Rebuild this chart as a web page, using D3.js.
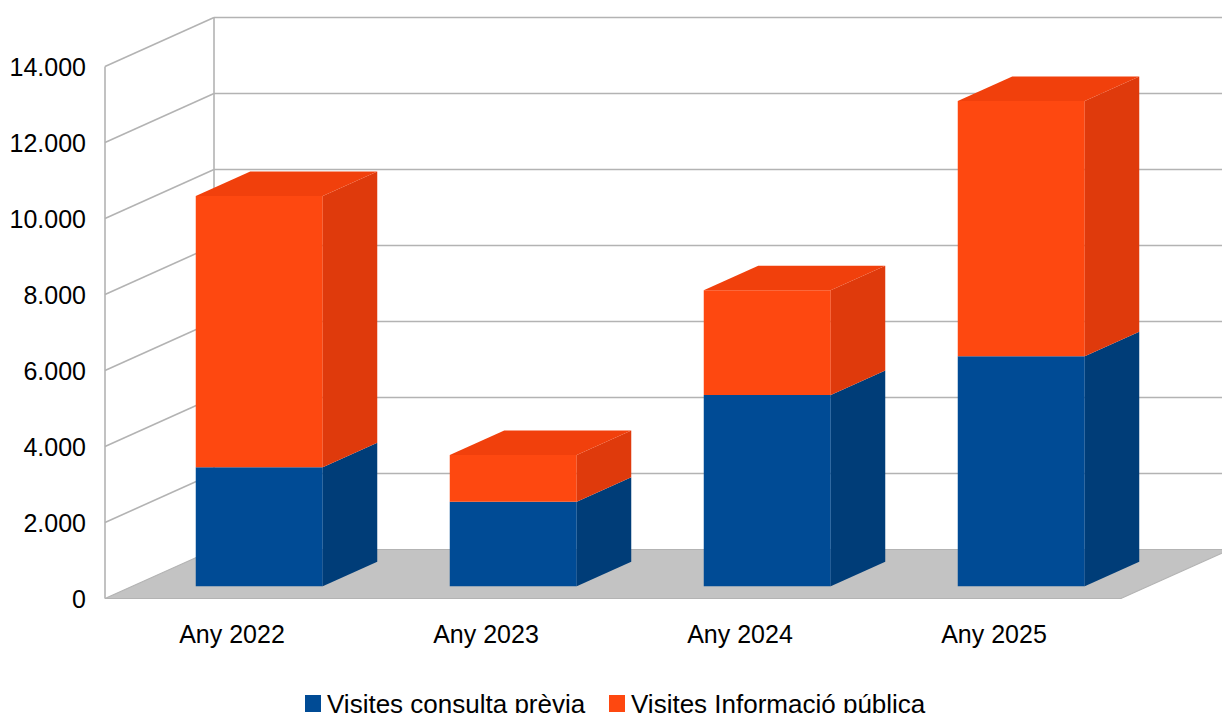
<!DOCTYPE html>
<html>
<head>
<meta charset="utf-8">
<script src="https://cdn.jsdelivr.net/npm/d3@7"></script>
<style>
  html, body { margin: 0; padding: 0; background: #fff; }
  svg { display: block; font-family: "Liberation Sans", Arial, sans-serif; }
</style>
</head>
<body>
<svg id="chart" width="1222" height="713"></svg>
<script>
// ---- data ----
const categories = ["Any 2022", "Any 2023", "Any 2024", "Any 2025"];
const seriesNames = ["Visites consulta prèvia", "Visites Informació pública"];
const consultaPrevia = [3130, 2225, 5030, 6050];
const informacioPublica = [7140, 1230, 2760, 6720];
const yTicks = [0, 2000, 4000, 6000, 8000, 10000, 12000, 14000];

// ---- layout ----
const svg = d3.select("#chart");
const x0 = 105, x1 = 1121, yBase = 598.5, plotH = 532;
const DX = 109, DY = 49;            // full depth offset
const barZ0 = 0.25, barZ1 = 0.75;   // bar depth range

const y = d3.scaleLinear().domain([0, 14000]).range([yBase, yBase - plotH]);
const xb = d3.scaleBand().domain(categories).range([x0, x1]).paddingInner(0.5).paddingOuter(0.25);

const P = (x, v, z) => [x + z * DX, y(v) - z * DY];
const poly = pts => pts.map(p => p.join(",")).join(" ");

const grid = "#b3b3b3";

// floor
svg.append("polygon")
  .attr("points", poly([P(x0, 0, 0), P(x1, 0, 0), P(x1, 0, 1), P(x0, 0, 1)]))
  .attr("fill", "#c3c3c3").attr("stroke", grid).attr("stroke-width", 1.2);

// walls: gridlines on left wall and back wall
const g = svg.append("g").attr("stroke", grid).attr("stroke-width", 1.6).attr("fill", "none");
yTicks.forEach(v => {
  if (v > 0) {
    g.append("line").attr("x1", P(x0, v, 0)[0]).attr("y1", P(x0, v, 0)[1])
      .attr("x2", P(x0, v, 1)[0]).attr("y2", P(x0, v, 1)[1]);
    g.append("line").attr("x1", P(x0, v, 1)[0]).attr("y1", P(x0, v, 1)[1])
      .attr("x2", P(x1, v, 1)[0]).attr("y2", P(x1, v, 1)[1]);
  }
});
g.append("line").attr("x1", x0).attr("y1", y(0)).attr("x2", x0).attr("y2", y(14000));
g.append("line").attr("x1", P(x0, 0, 1)[0]).attr("y1", P(x0, 0, 1)[1])
  .attr("x2", P(x0, 14000, 1)[0]).attr("y2", P(x0, 14000, 1)[1]);

// bars
const colors = [
  { front: "#004b95", side: "#003d78", top: "#00427f" },
  { front: "#fe4810", side: "#df3a0c", top: "#f1400c" }
];
const bars = svg.append("g");
categories.forEach((c, i) => {
  const xa = xb(c), xe = xb(c) + xb.bandwidth();
  const segs = [[0, consultaPrevia[i]], [consultaPrevia[i], consultaPrevia[i] + informacioPublica[i]]];
  segs.forEach((s, k) => {
    const [v0, v1] = s;
    const col = colors[k];
    bars.append("polygon").attr("fill", col.front)
      .attr("points", poly([P(xa, v0, barZ0), P(xe, v0, barZ0), P(xe, v1, barZ0), P(xa, v1, barZ0)]));
    bars.append("polygon").attr("fill", col.side)
      .attr("points", poly([P(xe, v0, barZ0), P(xe, v0, barZ1), P(xe, v1, barZ1), P(xe, v1, barZ0)]));
    if (k === segs.length - 1) {
      bars.append("polygon").attr("fill", col.top)
        .attr("points", poly([P(xa, v1, barZ0), P(xe, v1, barZ0), P(xe, v1, barZ1), P(xa, v1, barZ1)]));
    }
  });
});

// y axis labels
const fmt = d3.formatLocale({ decimal: ",", thousands: ".", grouping: [3], currency: ["", "€"] }).format(",");
const yAxis = d3.axisLeft(y).tickValues(yTicks).tickFormat(fmt).tickSize(0).tickPadding(0);
const ya = svg.append("g").attr("transform", `translate(86,0.8)`).call(yAxis);
ya.select(".domain").remove();
ya.selectAll("text").attr("font-size", 25).attr("font-family", "Liberation Sans, Arial, sans-serif").attr("fill", "#000");

// x axis labels
const xAxis = d3.axisBottom(xb).tickSize(0).tickPadding(0);
const xa = svg.append("g").attr("transform", `translate(0,625)`).call(xAxis);
xa.select(".domain").remove();
xa.selectAll("text").attr("font-size", 25).attr("font-family", "Liberation Sans, Arial, sans-serif").attr("fill", "#000");

// legend
const legend = [
  { name: seriesNames[0], color: colors[0].front, sx: 305, tx: 327 },
  { name: seriesNames[1], color: colors[1].front, sx: 609, tx: 631 }
];
const lg = svg.append("g");
legend.forEach(d => {
  lg.append("rect").attr("x", d.sx).attr("y", 695).attr("width", 16).attr("height", 17).attr("fill", d.color);
  lg.append("text").attr("x", d.tx).attr("y", 713).attr("font-size", 26).attr("fill", "#000").text(d.name);
});
</script>
</body>
</html>
